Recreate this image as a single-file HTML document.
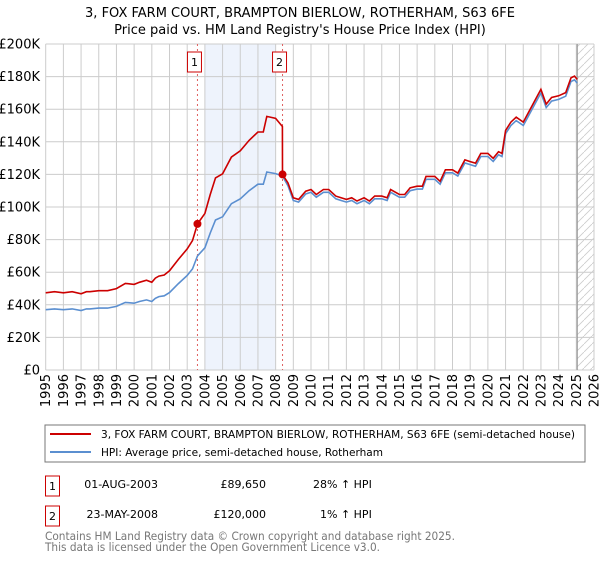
<!DOCTYPE html>
<html><head><meta charset="utf-8"><style>
body{margin:0;background:#fff;font-family:"Liberation Sans","DejaVu Sans",sans-serif;}
svg text{font-family:"DejaVu Sans","Liberation Sans",sans-serif;}
</style></head><body>
<svg id="c" width="600" height="560" xmlns="http://www.w3.org/2000/svg">
<text x="300" y="17" text-anchor="middle" font-size="13">3, FOX FARM COURT, BRAMPTON BIERLOW, ROTHERHAM, S63 6FE</text>
<text x="300" y="34" text-anchor="middle" font-size="13">Price paid vs. HM Land Registry's House Price Index (HPI)</text>
<g id="plot"></g>
<rect x="45" y="425" width="540" height="37" fill="#fff" stroke="#777"/>
<line x1="50" y1="434" x2="91" y2="434" stroke="#cc0000" stroke-width="2"/>
<text x="101" y="438" font-size="11" textLength="474" lengthAdjust="spacingAndGlyphs">3, FOX FARM COURT, BRAMPTON BIERLOW, ROTHERHAM, S63 6FE (semi-detached house)</text>
<line x1="50" y1="452" x2="91" y2="452" stroke="#5b8fd0" stroke-width="2"/>
<text x="101" y="456" font-size="11" textLength="282" lengthAdjust="spacingAndGlyphs">HPI: Average price, semi-detached house, Rotherham</text>
<rect x="45.5" y="476" width="14" height="20" fill="#fff" stroke="#cc0000"/>
<text x="52.5" y="490" font-size="11" text-anchor="middle">1</text>
<text x="158" y="488" font-size="11" text-anchor="end">01-AUG-2003</text>
<text x="266" y="488" font-size="11" text-anchor="end">£89,650</text>
<text x="313" y="488" font-size="11">28% ↑ HPI</text>
<rect x="45.5" y="506" width="14" height="20" fill="#fff" stroke="#cc0000"/>
<text x="52.5" y="520" font-size="11" text-anchor="middle">2</text>
<text x="158" y="518" font-size="11" text-anchor="end">23-MAY-2008</text>
<text x="266" y="518" font-size="11" text-anchor="end">£120,000</text>
<text x="320" y="518" font-size="11">1% ↑ HPI</text>
<text x="45" y="540" font-size="11.5" fill="#777" textLength="410" lengthAdjust="spacingAndGlyphs">Contains HM Land Registry data © Crown copyright and database right 2025.</text>
<text x="45" y="551" font-size="11.5" fill="#777" textLength="335" lengthAdjust="spacingAndGlyphs">This data is licensed under the Open Government Licence v3.0.</text>
</svg>
<script>
const hpiDates=[1995,1995.5,1996,1996.5,1997,1997.3,1997.5,1998,1998.5,1999,1999.5,2000,2000.3,2000.7,2001,2001.2,2001.4,2001.7,2002,2002.5,2003,2003.3,2003.58,2004,2004.3,2004.6,2005,2005.5,2006,2006.5,2007,2007.3,2007.5,2008,2008.39,2008.7,2009,2009.3,2009.7,2010,2010.3,2010.7,2011,2011.4,2011.7,2012,2012.3,2012.6,2013,2013.3,2013.6,2014,2014.3,2014.5,2015,2015.3,2015.6,2016,2016.3,2016.5,2017,2017.3,2017.6,2018,2018.3,2018.7,2019,2019.3,2019.6,2020,2020.3,2020.6,2020.8,2021,2021.3,2021.6,2022,2022.3,2022.6,2023,2023.3,2023.6,2024,2024.4,2024.7,2024.9,2025.05];
const hpiValues=[37,37.5,37,37.5,36.5,37.5,37.5,38,38,39,41.5,41,42,43,42,44,45,45.5,47.5,53,58,62,70,75,84,92,94,102,105,110,114,114,121.5,120.5,119,113,104,103,108,109,106,109,109,105,104,103,104,102,104,102,105,105,104,109,106,106,110,111,111,117,117,114,121,121,119,127,126,125,131,131,128,132,131,145,150,153,150,156,162,170,161,165,166,168,177,178,176];
const sale1={date:2003.58,price:89.65}, sale2={date:2008.39,price:120};
const yTicks=[0,20,40,60,80,100,120,140,160,180,200];
const yTickLabels=["£0","£20K","£40K","£60K","£80K","£100K","£120K","£140K","£160K","£180K","£200K"];
const xYears=[];for(let y=1995;y<=2026;y++)xYears.push(y);
const X0=45.7,X1=594,Y0=370,Y1=44;
const sx=v=>X0+(v-1995)/(2026-1995)*(X1-X0);
const sy=v=>Y0-v/200*(Y0-Y1);
const NS="http://www.w3.org/2000/svg",g=document.getElementById('plot');
function mk(t,a,p){const e=document.createElementNS(NS,t);for(const k in a)e.setAttribute(k,a[k]);(p||g).appendChild(e);return e;}
let e;
const defs=mk('defs',{});
const pat=mk('pattern',{id:'h',width:8,height:8,patternUnits:'userSpaceOnUse'},defs);
mk('path',{d:'M0,8 L8,0',stroke:'#ccc','stroke-width':0.8},pat);
e=mk('rect',{x:sx(2004),y:Y1,width:sx(2008)-sx(2004),height:Y0-Y1,fill:'#eef3fc'});


e=mk('rect',{x:sx(2025.05),y:Y1,width:X1-sx(2025.05),height:Y0-Y1,fill:'url(#h)'});


yTicks.forEach((t,i)=>{
 e=mk('line',{x1:X0,x2:X1,y1:sy(t),y2:sy(t),stroke:'#ccc'});
 
 
 e=mk('text',{x:40,y:sy(t)+4.5,'text-anchor':'end','font-size':13});e.textContent=yTickLabels[i];
 
 
});
xYears.forEach(y=>{
 e=mk('line',{x1:sx(y),x2:sx(y),y1:Y1,y2:Y0,stroke:'#ccc'});
 
 
 e=mk('text',{x:0,y:0,'font-size':13,'text-anchor':'end',transform:`translate(${sx(y)+4.5},374) rotate(-90)`});e.textContent=y;
 
 
});
e=mk('line',{x1:sx(2025.05),x2:sx(2025.05),y1:Y1,y2:Y0,stroke:'#999','stroke-width':1.2});


[sale1,sale2].forEach((s,i)=>{
 e=mk('line',{x1:sx(s.date),x2:sx(s.date),y1:Y1,y2:Y0,stroke:'#e06060','stroke-dasharray':'2,3'});
 
 
 e=mk('rect',{x:sx(s.date)-10,y:52,width:14,height:20,fill:'#fff',stroke:'#cc0000'});
 
 
 e=mk('text',{x:sx(s.date)-3,y:66,'font-size':11,'text-anchor':'middle'});e.textContent=String(i+1);
 
 
});
const hpiPts=hpiDates.map((d,i)=>sx(d).toFixed(1)+','+sy(hpiValues[i]).toFixed(1)).join(' ');
e=mk('polyline',{points:hpiPts,fill:'none',stroke:'#5b8fd0','stroke-width':1.6});


const r1=sale1.price/hpiValues[hpiDates.indexOf(sale1.date)],r2=sale2.price/hpiValues[hpiDates.indexOf(sale2.date)];
const redPts=[];
hpiDates.forEach((d,i)=>{
 if(d<sale2.date)redPts.push([d,hpiValues[i]*r1]);
 else if(d===sale2.date){redPts.push([d-0.01,hpiValues[i]*r1*0.98]);redPts.push([d,sale2.price]);}
 else redPts.push([d,hpiValues[i]*r2+0.8]);
});
e=mk('polyline',{points:redPts.map(p=>sx(p[0]).toFixed(1)+','+sy(p[1]).toFixed(1)).join(' '),fill:'none',stroke:'#cc0000','stroke-width':1.6});


[sale1,sale2].forEach(s=>{
 e=mk('circle',{cx:sx(s.date),cy:sy(s.price),r:4,fill:'#cc0000'});
 
 
});
</script>
</body></html>
